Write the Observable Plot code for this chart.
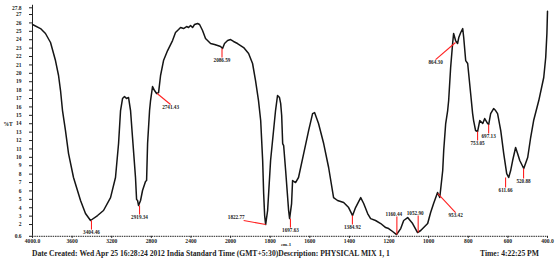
<!DOCTYPE html>
<html><head><meta charset="utf-8">
<script src="https://cdn.jsdelivr.net/npm/d3@7"></script>
<script src="https://cdn.jsdelivr.net/npm/@observablehq/plot@0.6"></script>
<style>
body{margin:0;background:#fff;}
#wrap{position:relative;width:559px;height:261px;overflow:hidden;}
.cap{position:absolute;top:249px;font:bold 7.6px "Liberation Serif",serif;color:#222;white-space:pre;}
</style></head><body><div id="wrap"></div>
<script>
// Spectrum: wavenumber (cm-1) and %T
const wavenumber = [4000,3919,3869,3818,3768,3737,3717,3697,3667,3636,3586,3515,3465,3414,3343,3283,3212,3162,3131,3111,3091,3071,3051,3030,3010,2990,2960,2949,2939,2929,2909,2889,2859,2848,2838,2818,2808,2788,2768,2747,2727,2707,2677,2636,2586,2556,2525,2505,2475,2444,2424,2404,2384,2364,2333,2313,2283,2253,2202,2162,2131,2101,2081,2061,2030,2000,1985,1965,1934,1909,1889,1874,1859,1848,1838,1833,1828,1823,1813,1798,1783,1773,1763,1753,1747,1742,1737,1732,1722,1707,1702,1692,1687,1672,1657,1631,1606,1586,1576,1556,1530,1505,1480,1460,1429,1404,1384,1369,1343,1328,1308,1293,1268,1242,1217,1202,1182,1162,1141,1126,1106,1081,1056,1040,1020,1005,990,975,955,944,929,924,914,904,899,889,879,874,864,854,848,838,828,823,813,803,798,788,778,773,763,753,742,727,717,702,697,687,672,662,652,636,621,606,596,586,576,561,551,540,520,500,485,470,444,419,409,403,400];
const transmittance = [25.81,25.33,24.74,23.67,21.52,19.74,17.95,15.57,13.19,10.45,7.60,4.86,3.31,2.48,3.07,3.67,5.21,7.60,11.64,15.57,17.0,17.24,17.0,17.12,15.57,12.36,7.60,4.98,4.86,4.26,4.86,6.05,7.12,7.24,11.64,15.57,16.76,18.43,17.95,17.60,17.71,19.74,21.52,22.71,23.90,24.86,25.21,25.45,25.33,25.57,25.45,25.69,25.45,25.81,25.93,25.81,25.10,24.14,23.55,23.43,23.31,23.19,22.95,23.55,23.90,24.02,23.79,23.55,23.07,22.36,21.17,19.14,16.76,14.38,9.62,5.69,3.07,2.0,3.67,9.62,13.19,15.57,17.36,17.12,16.40,14.98,11.64,11.40,8.43,3.67,2.71,4.50,7.24,7.0,7.60,10.45,13.19,15.21,15.33,14.02,11.64,8.79,5.21,4.86,4.62,4.02,3.07,4.02,5.21,4.50,3.31,2.71,2.48,2.12,1.64,1.52,1.17,0.81,1.52,2.48,2.83,2.12,1.05,1.29,1.76,2.12,3.43,4.50,5.81,5.21,8.43,10.81,14.02,15.57,16.76,20.69,23.55,24.74,23.90,23.55,24.26,24.86,25.33,24.26,21.52,21.17,19.98,17.60,15.21,14.38,13.19,13.07,14.38,14.02,14.62,14.02,13.90,15.21,15.81,15.57,15.21,13.19,10.45,8.07,7.60,8.43,9.62,11.17,10.45,9.62,8.67,9.98,12.36,14.38,16.76,19.50,21.88,24.74,27.4];

// Axis ticks and their labels
const xTicks = [4000,3600,3200,2800,2400,2000,1800,1600,1400,1200,1000,800,600,400];
const xTickLabels = ["4000.0","3600","3200","2800","2400","2000","1800","1600","1400","1200","1000","800","600","400.0"];
const yTicks = [0.6,2,3,4,5,6,7,8,9,10,11,12,13,14,15,16,17,18,19,20,21,22,23,24,25,26,27,27.8];
const yTickLabels = ["0.6","2","3","4","5","6","7","8","9","10","11","12","13","14","15","16","17","18","19","20","21","22","23","24","25","26","27","27.8"];

// Peak annotations: label (its wavenumber), %T at the peak, end of the red leader (wavenumber, %T)
const peakLabels = ["3404.46","2919.34","2741.43","2086.59","1822.77","1697.63","1384.92","1160.44","1052.90","953.42","864.30","753.05","697.13","611.66","520.88"];
const peakT      = [2.48,4.26,17.6,22.95,2.0,2.71,3.07,0.81,1.05,5.69,23.67,13.07,13.9,7.6,8.67];
const leaderWn   = [3404.46,2919.34,2606,2086.59,1934,1697.63,1384.92,1160.44,1052.90,864,965,753.05,697.13,611.66,520.88];
const leaderT    = [1.40,3.19,16.29,21.88,2.48,1.64,2.0,2.95,3.07,3.43,21.64,12.0,12.83,6.4,7.48];
const labelPlace = ["below","below","below","below","left","below","below","above","above","below","below","below","below","below","below"];

const spectrum = wavenumber.map((w, i) => ({w, t: transmittance[i]}));
const notes = peakLabels.map((label, i) => ({label, w: +label, t: peakT[i], w2: leaderWn[i], t2: leaderT[i], place: labelPlace[i]}));
const xTickData = xTicks.map((w, i) => ({w, label: xTickLabels[i]}));

// instrument scale change at 2000 cm-1: 400 cm-1 per division above, 200 below
const xPos = w => w >= 2000 ? (4000 - w) / 400 : 5 + (2000 - w) / 200;

const font = "Liberation Serif, serif";

const chart = Plot.plot({
  width: 559, height: 248,
  marginLeft: 32, marginRight: 12, marginTop: 7.3, marginBottom: 12.2,
  style: {fontFamily: font, fontSize: "5.5px", fontWeight: "bold", color: "#222", background: "#fff"},
  x: {transform: xPos, domain: [0, 13], range: [32, 547], axis: null},
  y: {domain: [0.6, 27.8], range: [235.8, 7.3], ticks: yTicks, tickFormat: d => yTickLabels[yTicks.indexOf(d)], tickSize: 3, tickPadding: 8, label: null},
  marks: [
    Plot.ruleX([4000], {y1: 0.6, y2: 28.1, stroke: "#222", strokeWidth: 1}),
    Plot.ruleY([0.6], {x1: 4000, x2: 400, stroke: "#222", strokeWidth: 1, strokeDasharray: "1.5 0.8"}),
    Plot.ruleX(xTickData, {x: "w", y1: 0.6, y2: 0.35, stroke: "#222", strokeWidth: 1}),
    Plot.text(xTickData, {x: "w", y: 0.6, text: "label", lineAnchor: "top", dy: 3, fontSize: 5.6, fill: "#222"}),
    Plot.line(spectrum, {x: "w", y: "t", stroke: "#151515", strokeWidth: 1.5, curve: "linear"}),
    Plot.link(notes, {x1: "w", y1: "t", x2: "w2", y2: "t2", stroke: "#ff2020", strokeWidth: 1.1}),
    Plot.text(notes.filter(d => d.place === "below"), {x: "w2", y: "t2", text: "label", lineAnchor: "top", dy: 1, fontSize: 5.2, fill: "#222"}),
    Plot.text(notes.filter(d => d.place === "above"), {x: "w2", y: "t2", text: "label", lineAnchor: "bottom", dy: -1, dx: -3, fontSize: 5.2, fill: "#222"}),
    Plot.text(notes.filter(d => d.place === "left"), {x: "w2", y: "t2", text: "label", textAnchor: "end", dy: -3, dx: 1, fontSize: 5.2, fill: "#222"}),
    Plot.text(["%T"], {frameAnchor: "left", dx: -29, dy: 2.5, textAnchor: "start", fontSize: 5.5, fill: "#222"}),
    Plot.text(["cm-1"], {frameAnchor: "bottom", dx: -4, dy: 10, fontSize: 4.8, fill: "#222"})
  ]
});
const wrap = document.getElementById("wrap");
wrap.appendChild(chart);
const c1 = document.createElement("div");
c1.className = "cap"; c1.style.left = "32px";
c1.textContent = "Date Created: Wed Apr 25 16:28:24 2012 India Standard Time (GMT+5:30)Description: PHYSICAL MIX 1, 1";
wrap.appendChild(c1);
const c2 = document.createElement("div");
c2.className = "cap"; c2.style.left = "480px";
c2.textContent = "Time: 4:22:25 PM";
wrap.appendChild(c2);
</script></body></html>
